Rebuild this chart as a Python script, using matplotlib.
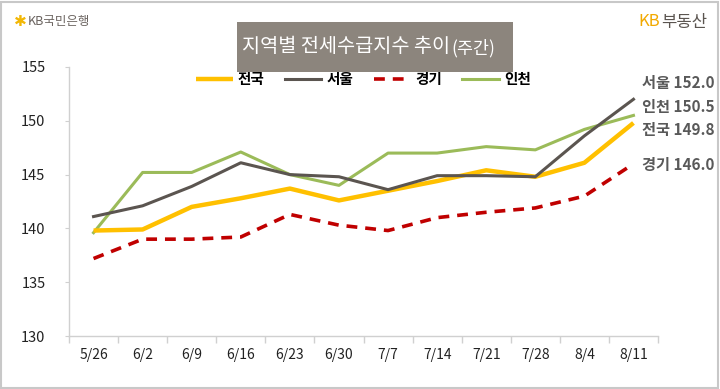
import matplotlib
matplotlib.use("Agg")
import matplotlib.pyplot as plt
from matplotlib.patches import Rectangle
import numpy as np

plt.rcParams['font.family'] = ['Noto Sans CJK KR', 'DejaVu Sans']

weeks = ["5/26", "6/2", "6/9", "6/16", "6/23", "6/30", "7/7", "7/14", "7/21", "7/28", "8/4", "8/11"]
nation = [139.8, 139.9, 142.0, 142.8, 143.7, 142.6, 143.5, 144.4, 145.4, 144.8, 146.1, 149.8]
seoul = [141.1, 142.1, 143.9, 146.1, 145.0, 144.8, 143.6, 144.9, 144.9, 144.8, 148.6, 152.0]
gyeonggi = [137.2, 139.0, 139.0, 139.2, 141.3, 140.3, 139.8, 141.0, 141.5, 141.9, 143.0, 146.0]
incheon = [139.6, 145.2, 145.2, 147.1, 145.0, 144.0, 147.0, 147.0, 147.6, 147.3, 149.2, 150.5]
yticks = [130, 135, 140, 145, 150, 155]

fig = plt.figure(figsize=(7.2, 3.89), dpi=100)
W, H = 720, 389

# outer border
fig.patches.append(Rectangle((1/W, 1/H), 1 - 3/W, 1 - 3/H, transform=fig.transFigure,
                             fill=False, edgecolor='#c8c8c8', linewidth=1.5))

ax = fig.add_axes([69/W, (H-336)/H, (658-69)/W, (336-67)/H])
x = np.arange(len(weeks))
ax.plot(x, nation, color='#FFC000', lw=3.2, label='전국', solid_capstyle='butt', zorder=3)
ax.plot(x, seoul, color='#5B5550', lw=2.2, label='서울', zorder=4)
ax.plot(x, gyeonggi, color='#C00000', lw=2.6, ls=(0, (3, 2.2)), label='경기', zorder=3)
ax.plot(x, incheon, color='#9BBB59', lw=2.2, label='인천', zorder=2)

ax.set_xlim(-0.5, len(weeks) - 0.5)
ax.set_ylim(130, 155)
ax.set_yticks(yticks)
ax.set_yticklabels([str(v) for v in yticks], fontsize=10.5, color='#222222')
ax.set_xticks(x)
ax.set_xticklabels(weeks, fontsize=10, color='#222222')
ax.tick_params(axis='x', length=0, pad=9)
ax.set_xticks(np.arange(-0.5, len(weeks)), minor=True)
ax.tick_params(axis='x', which='minor', length=5, color='#d0d0d0', width=1)
ax.tick_params(axis='y', length=3, color='#d0d0d0', pad=14)
for s in ['top', 'right']:
    ax.spines[s].set_visible(False)
for s in ['left', 'bottom']:
    ax.spines[s].set_color('#d0d0d0')
    ax.spines[s].set_linewidth(1)

leg = ax.legend(loc='upper center', bbox_to_anchor=(0.5, 1.035), ncol=4, frameon=False,
                prop={'weight': 'bold', 'size': 10.5}, handlelength=2.5, columnspacing=1.4,
                handletextpad=0.35)

# end labels
ends = [("서울", seoul[-1], 83), ("인천", incheon[-1], 107), ("전국", nation[-1], 130), ("경기", gyeonggi[-1], 165)]
for name, v, ypix in ends:
    fig.text(642/W, 1 - ypix/H, f"{name} {v:.1f}", fontsize=11, color='#595959',
             fontweight='bold', va='center', ha='left')

# title box
fig.patches.append(Rectangle((237/W, 1 - 72/H), (513-237)/W, (72-22)/H, transform=fig.transFigure,
                             facecolor='#8C857D', edgecolor='none'))
t1 = fig.text(242/W, 1 - 47/H, "지역별 전세수급지수 추이", fontsize=14.2, color='white', ha='left', va='center')
fig.text(451/W, 1 - 48/H, "(주간)", fontsize=12.5, color='white', ha='left', va='center')

# logos
fig.text(14/W, 1 - 21/H, "✱", fontsize=11, color='#F2B705', va='center', ha='left', family=['DejaVu Sans'])
fig.text(28/W, 1 - 21/H, "KB국민은행", fontsize=9, color='#6b6460', va='center', ha='left')
fig.text(638/W, 1 - 22/H, "KB", fontsize=12, color='#F2A900', va='center', ha='left')
fig.text(661/W, 1 - 22/H, "부동산", fontsize=12, color='#5b5550', va='center', ha='left')

fig.savefig("out.png", dpi=100)
